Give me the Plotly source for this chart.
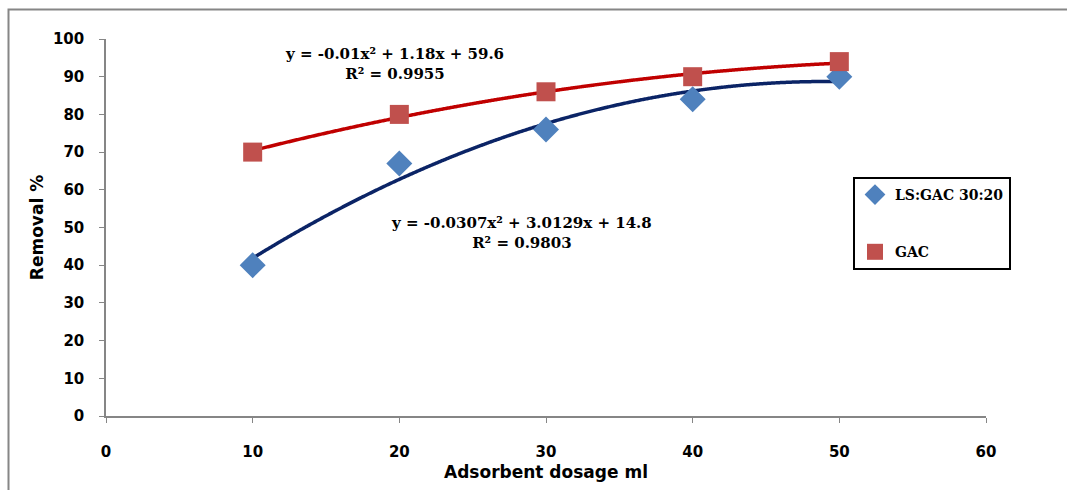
import numpy as np
import plotly.graph_objects as go

# Adsorbent dosage (ml) and removal (%) for each adsorbent
dosage = [10, 20, 30, 40, 50]
removal_ls_gac = [40, 67, 76, 84, 90]
removal_gac = [70, 80, 86, 90, 94]

# Polynomial (order 2) trendline coefficients: a*x^2 + b*x + c
coef_ls_gac = [-0.0307, 3.0129, 14.8]
coef_gac = [-0.01, 1.18, 59.6]
r2_ls_gac = 0.9803
r2_gac = 0.9955

x_tick_vals = [0, 10, 20, 30, 40, 50, 60]
y_tick_vals = [0, 10, 20, 30, 40, 50, 60, 70, 80, 90, 100]

xs = np.linspace(min(dosage), max(dosage), 300)
fit_ls = np.polyval(coef_ls_gac, xs)
fit_gac = np.polyval(coef_gac, xs)


def eq_text(coef, r2):
    a, b, c = coef
    return f"<b>y = {a:g}x² + {b:g}x + {c:g}<br>R² = {r2:.4f}</b>"


serif = "DejaVu Serif, Liberation Serif, serif"
sans = "DejaVu Sans, Arial, sans-serif"

fig = go.Figure()

# trendlines
fig.add_trace(go.Scatter(x=xs, y=fit_gac, mode="lines",
                         line=dict(color="#C00000", width=3.5, shape="spline"),
                         showlegend=False, hoverinfo="skip"))
fig.add_trace(go.Scatter(x=xs, y=fit_ls, mode="lines",
                         line=dict(color="#0B2466", width=3.5, shape="spline"),
                         showlegend=False, hoverinfo="skip"))

# measured points
fig.add_trace(go.Scatter(x=dosage, y=removal_ls_gac, mode="markers",
                         name="LS:GAC 30:20", legendgroup="a",
                         marker=dict(symbol="diamond", size=20,
                                     color="#4F81BD")))
fig.add_trace(go.Scatter(x=dosage, y=removal_gac, mode="markers",
                         name="GAC", legendgroup="b",
                         marker=dict(symbol="square", size=19,
                                     color="#C0504D")))

# trendline equations
fig.add_annotation(x=19.7, y=93.5, xref="x", yref="y",
                   text=eq_text(coef_gac, r2_gac), showarrow=False,
                   font=dict(family=serif, size=15, color="#000000"),
                   align="center")
fig.add_annotation(x=28.3, y=48.5, xref="x", yref="y",
                   text=eq_text(coef_ls_gac, r2_ls_gac), showarrow=False,
                   font=dict(family=serif, size=15, color="#000000"),
                   align="center")

# chart-area border
L, R, T, B = 106, 81, 39, 74
W, H = 1067 - L - R, 490 - T - B
fig.add_shape(type="rect", xref="paper", yref="paper",
              x0=(8.5 - L) / W, x1=(1075 - L) / W,
              y0=(490 - B - 500) / H, y1=(490 - B - 9.5) / H,
              line=dict(color="#868686", width=2), layer="below")

fig.update_layout(
    width=1067, height=490,
    margin=dict(l=L, r=R, t=T, b=B),
    paper_bgcolor="white", plot_bgcolor="white",
    legend=dict(x=(853 - L) / W, y=(490 - B - 177) / H,
                xanchor="left", yanchor="top",
                bordercolor="#000000", borderwidth=2, bgcolor="white",
                font=dict(family=serif, size=14, color="#000000",
                          weight="bold"),
                tracegroupgap=36, itemwidth=30, itemsizing="trace"),
    showlegend=True,
)
axis_font = dict(family=sans, size=15, color="#000000", weight="bold")
title_font = dict(family=sans, size=17, color="#000000", weight="bold")
fig.update_xaxes(range=[0, 60], tickvals=x_tick_vals,
                 showgrid=False, zeroline=False,
                 showline=True, linecolor="#868686", linewidth=1.5,
                 ticks="outside", ticklen=5, tickcolor="#868686",
                 ticklabelstandoff=16, tickfont=axis_font,
                 title=dict(text="Adsorbent dosage ml", standoff=6,
                            font=title_font))
fig.update_yaxes(range=[0, 100], tickvals=y_tick_vals,
                 showgrid=False, zeroline=False,
                 showline=True, linecolor="#868686", linewidth=1.5,
                 ticks="outside", ticklen=5, tickcolor="#868686",
                 ticklabelstandoff=12, tickfont=axis_font,
                 title=dict(text="Removal %", standoff=5,
                            font=title_font))

fig.write_html("out.html")
